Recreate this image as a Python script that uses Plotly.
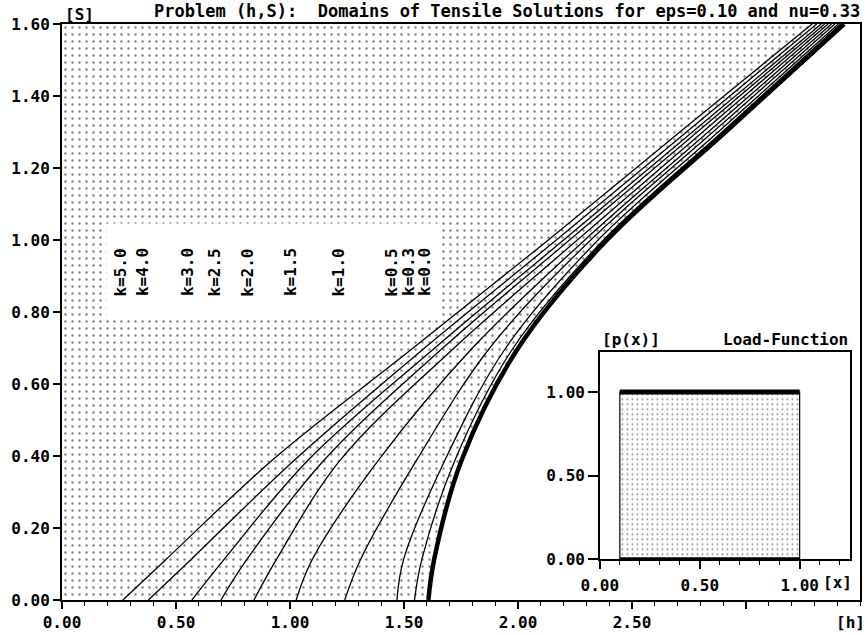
import plotly.graph_objects as go

# ---------------- data ----------------
S_levels = [0.0, 0.112, 0.389, 0.70, 1.00, 1.30, 1.60]

h_k5_0 = [0.267, 0.455, 0.923, 1.540, 2.133, 2.710, 3.290]
h_k4_0 = [0.379, 0.565, 1.020, 1.590, 2.168, 2.739, 3.310]
h_k3_0 = [0.570, 0.710, 1.080, 1.635, 2.200, 2.765, 3.330]
h_k2_5 = [0.697, 0.810, 1.150, 1.670, 2.226, 2.786, 3.345]
h_k2_0 = [0.842, 0.940, 1.221, 1.720, 2.260, 2.810, 3.360]
h_k1_5 = [1.027, 1.097, 1.389, 1.800, 2.293, 2.834, 3.375]
h_k1_0 = [1.240, 1.309, 1.556, 1.876, 2.319, 2.855, 3.390]
h_k0_5 = [1.469, 1.498, 1.680, 1.946, 2.351, 2.878, 3.405]
h_k0_3 = [1.546, 1.578, 1.724, 1.979, 2.375, 2.895, 3.415]
h_k0_0 = [1.607, 1.632, 1.753, 2.001, 2.390, 2.910, 3.430]

k_labels = ["k=5.0", "k=4.0", "k=3.0", "k=2.5", "k=2.0",
            "k=1.5", "k=1.0", "k=0.5", "k=0.3", "k=0.0"]
curves = [h_k5_0, h_k4_0, h_k3_0, h_k2_5, h_k2_0,
          h_k1_5, h_k1_0, h_k0_5, h_k0_3, h_k0_0]
# horizontal placement of the rotated k-labels (h units)
label_h = [0.255, 0.354, 0.551, 0.667, 0.813, 1.003, 1.211, 1.444, 1.520, 1.590]

x_tick_vals = [0.0, 0.5, 1.0, 1.5, 2.0, 2.5, 3.0]
x_tick_text = ["0.00", "0.50", "1.00", "1.50", "2.00", "2.50", ""]
y_tick_vals = [0.0, 0.2, 0.4, 0.6, 0.8, 1.0, 1.2, 1.4, 1.6]
y_tick_text = ["0.00", "0.20", "0.40", "0.60", "0.80", "1.00", "1.20", "1.40", "1.60"]

# inset: load function p(x)
load_x = [0.1, 1.0]
load_p = [1.0, 1.0]
inset_tick_vals = [0.0, 0.5, 1.0]
inset_tick_text = ["0.00", "0.50", "1.00"]

# ---------------- figure ----------------
FONT = "DejaVu Sans Mono"
fig = go.Figure()

# dotted domain (left of the k=0 boundary)
fig.add_trace(go.Scatter(
    x=h_k0_0, y=S_levels, mode="lines", line=dict(width=0, shape="spline"),
    fill="tozerox", fillcolor="white",
    fillpattern=dict(shape=".", size=7, solidity=0.09, fgcolor="black", bgcolor="white"),
    hoverinfo="skip", showlegend=False))

for lab, h in zip(k_labels, curves):
    thick = lab == "k=0.0"
    fig.add_trace(go.Scatter(
        x=h, y=S_levels, mode="lines",
        line=dict(color="black", width=4.5 if thick else 1.3, shape="spline"),
        name=lab, showlegend=False))

# inset bar
fig.add_trace(go.Scatter(
    x=[load_x[0], load_x[0], load_x[1], load_x[1], load_x[0]],
    y=[0, load_p[0], load_p[1], 0, 0],
    xaxis="x2", yaxis="y2", mode="lines", line=dict(color="black", width=1.2),
    fill="toself", fillcolor="white",
    fillpattern=dict(shape=".", size=5, solidity=0.1, fgcolor="black", bgcolor="white"),
    showlegend=False))
fig.add_trace(go.Scatter(x=load_x, y=load_p, xaxis="x2", yaxis="y2", mode="lines",
                         line=dict(color="black", width=5), showlegend=False))
fig.add_trace(go.Scatter(x=load_x, y=[0, 0], xaxis="x2", yaxis="y2", mode="lines",
                         line=dict(color="black", width=4), showlegend=False))

tickfont = dict(family=FONT, size=16, color="black", weight="bold")

fig.update_layout(
    width=868, height=635,
    margin=dict(l=62, r=8, t=24, b=35, autoexpand=False),
    paper_bgcolor="white", plot_bgcolor="white",
    font=dict(family=FONT, color="black"),
    xaxis=dict(range=[0, 3.5], tickmode="array", tickvals=x_tick_vals, ticktext=x_tick_text,
               ticks="outside", ticklen=7, tickwidth=1.5, tickcolor="black",
               ticklabelstandoff=0, automargin=False,
               minor=dict(tickmode="linear", tick0=0, dtick=0.1, ticks="outside",
                          ticklen=4, tickwidth=1, tickcolor="black"),
               showline=True, linecolor="black", linewidth=2, mirror=True,
               showgrid=False, zeroline=False, tickfont=tickfont),
    yaxis=dict(range=[0, 1.6], tickmode="array", tickvals=y_tick_vals, ticktext=y_tick_text,
               ticks="outside", ticklen=7, tickwidth=1.5, tickcolor="black",
               automargin=False,
               showline=True, linecolor="black", linewidth=2, mirror=True,
               showgrid=False, zeroline=False, tickfont=tickfont),
    xaxis2=dict(domain=[0.674, 0.987], anchor="y2", range=[0, 1.25],
                tickmode="array", tickvals=inset_tick_vals, ticktext=inset_tick_text,
                ticks="outside", ticklen=8, tickwidth=1.5, tickcolor="black",
                ticklabelstandoff=3, automargin=False,
                minor=dict(tickmode="linear", tick0=0, dtick=0.1, ticks="outside",
                           ticklen=4, tickwidth=1, tickcolor="black"),
                showline=True, linecolor="black", linewidth=1.5, mirror=True,
                showgrid=False, zeroline=False, tickfont=tickfont),
    yaxis2=dict(domain=[0.0707, 0.431], anchor="x2", range=[0, 1.24],
                tickmode="array", tickvals=inset_tick_vals, ticktext=inset_tick_text,
                ticks="outside", ticklen=10, tickwidth=1.5, tickcolor="black",
                automargin=False,
                showline=True, linecolor="black", linewidth=1.5, mirror=True,
                showgrid=False, zeroline=False, tickfont=tickfont),
)

# white box behind the k-labels
fig.add_shape(type="rect", xref="x", yref="y", x0=0.195, x1=1.664, y0=0.783, y1=1.046,
              fillcolor="white", line=dict(width=0), layer="above")

for lab, lx in zip(k_labels, label_h):
    fig.add_annotation(x=lx, y=0.91, xref="x", yref="y", text=lab, textangle=-90,
                       showarrow=False,
                       font=dict(family=FONT, size=16, color="black", weight="bold"))

title_font = dict(family=FONT, size=17, color="black", weight="bold")
fig.add_annotation(xref="paper", yref="paper", x=0.1128, y=1, xanchor="left", yanchor="middle",
                   yshift=13, showarrow=False,
                   text="Problem (h,S):\u00a0 Domains of Tensile Solutions for eps=0.10 and nu=0.33",
                   font=title_font)
fig.add_annotation(xref="paper", yref="paper", x=0, y=1, xanchor="left", yanchor="middle",
                   xshift=1, yshift=10, showarrow=False, text="[S]", font=tickfont)
fig.add_annotation(xref="paper", yref="paper", x=1, y=0, xanchor="right", yanchor="top",
                   xshift=7, yshift=-11, showarrow=False, text="[h]", font=tickfont)

fig.add_annotation(xref="x2 domain", yref="y2 domain", x=0, y=1, xanchor="left", yanchor="bottom",
                   xshift=0, yshift=1, showarrow=False, text="[p(x)]", font=tickfont)
fig.add_annotation(xref="x2 domain", yref="y2 domain", x=1, y=1, xanchor="right", yanchor="bottom",
                   xshift=0, yshift=1, showarrow=False, text="Load-Function", font=tickfont)
fig.add_annotation(xref="x2 domain", yref="y2 domain", x=1, y=0, xanchor="right", yanchor="top",
                   xshift=4, yshift=-12, showarrow=False, text="[x]", font=tickfont)

fig.write_html("out.html", config={"displayModeBar": False},
               post_script="document.body.style.margin='0';")
